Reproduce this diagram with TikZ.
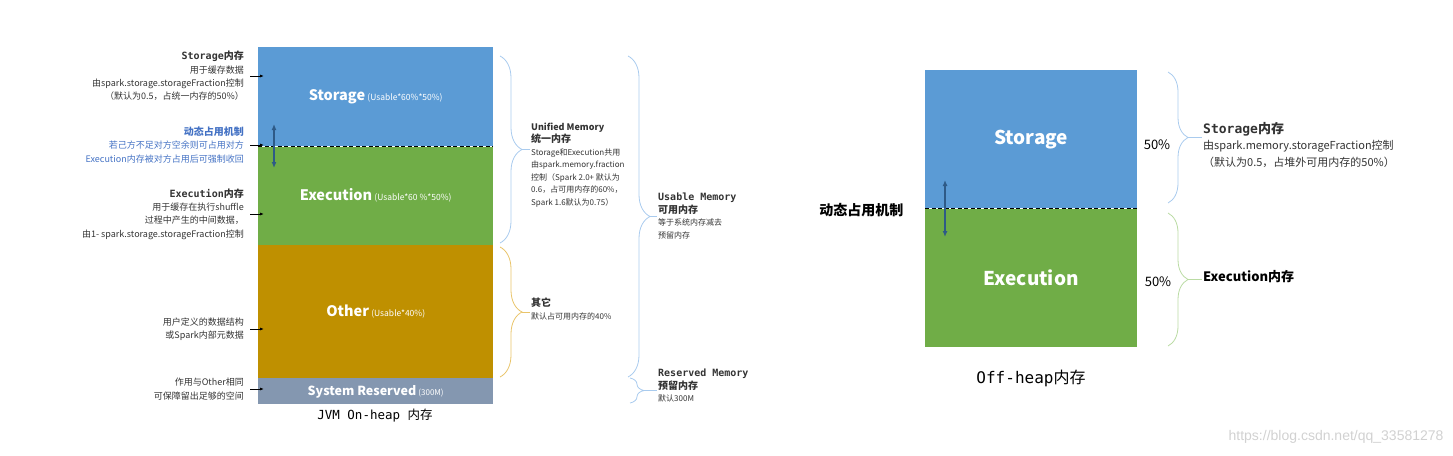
\documentclass[tikz,border=0pt]{standalone}
\usepackage{fontspec}
\setmainfont{Noto Sans CJK SC}
\newfontfamily\monof{DejaVu Sans Mono}
\newfontfamily\urlf{Liberation Sans}
\usetikzlibrary{positioning, arrows.meta, decorations.pathreplacing}

\definecolor{storblue}{HTML}{5B9BD5}
\definecolor{execgreen}{HTML}{70AD47}
\definecolor{othergold}{HTML}{BF9000}
\definecolor{sysgray}{HTML}{8497B0}
\definecolor{swapblue}{HTML}{2E5A87}
\definecolor{dynblue}{HTML}{4472C4}
\definecolor{bracebl}{HTML}{A9CBEE}
\definecolor{bracegold}{HTML}{E9C46A}
\definecolor{bracegreen}{HTML}{BADBA3}

\newcommand{\montitle}[2]{{\fontsize{10}{13}\selectfont\bfseries{\monof #1}#2}}
\newcommand{\cntitle}[1]{{\fontsize{10}{13}\selectfont\bfseries #1}}
\newcommand{\blab}[2]{{\fontsize{14.5}{16}\selectfont\bfseries #1} {\fontsize{8.5}{10}\selectfont #2}}

\begin{document}
\begin{tikzpicture}[x=1pt, y=-1pt,
    block/.style={inner sep=0pt, text=white, minimum width=235pt},
    offblock/.style={inner sep=0pt, text=white, minimum width=212pt, minimum height=138pt,
      font=\fontsize{19}{22}\selectfont\bfseries},
    ann/.style={align=right, anchor=east, inner sep=1pt, text=black!80,
      font=\fontsize{9}{13.3}\selectfont},
    note/.style={align=left, anchor=west, inner sep=1pt, text=black!80,
      font=\fontsize{8}{12.5}\selectfont},
    ptr/.style={-{Latex[length=4pt,width=3pt]}, line width=0.8pt, shorten <=5pt, shorten >=-6pt},
    swap/.style={{Latex[length=6pt,width=5pt]}-{Latex[length=6pt,width=5pt]}, draw=swapblue, line width=1.6pt},
    brc/.style={decorate, decoration={brace, amplitude=#1}, line width=0.8pt},
    sep/.style={dash pattern=on 4pt off 2.5pt, line width=1.3pt}]

\useasboundingbox (0,0) rectangle (1453,455);

% on-heap blocks
\node[block, fill=storblue, minimum height=99pt, anchor=north west] (stor) at (258,47) {\blab{Storage}{(Usable*60\%*50\%)}};
\node[block, fill=execgreen, minimum height=98pt, below=0pt of stor] (exec) {\blab{Execution}{(Usable*60 \%*50\%)}};
\node[block, fill=othergold, minimum height=133pt, below=0pt of exec] (other) {\blab{Other}{(Usable*40\%)}};
\node[block, fill=sysgray, minimum height=26pt, below=0pt of other] (sys) {{\fontsize{12.5}{14}\selectfont\bfseries System Reserved} {\fontsize{8}{9}\selectfont (300M)}};
\draw[sep] (stor.south west) -- (stor.south east);
\coordinate (swapL) at (274,146);
\draw[swap] ([yshift=22pt]swapL) -- ([yshift=-22pt]swapL);
\node[font=\fontsize{12.5}{14}\selectfont] (jvm) at (375,416) {{\monof JVM On-heap }内存};

% left notes
\node[ann] (sann) at (245,76) {\montitle{Storage}{内存}\\用于缓存数据\\由spark.storage.storageFraction控制\\（默认为0.5，占统一内存的50\%）};
\node[ann, text=dynblue] (dann) at (245,145) {\cntitle{动态占用机制}\\若己方不足对方空余则可占用对方\\Execution内存被对方占用后可强制收回};
\node[ann] (eann) at (245,214) {\montitle{Execution}{内存}\\用于缓存在执行shuffle\\过程中产生的中间数据，\\由1- spark.storage.storageFraction控制};
\node[ann] (oann) at (245,329) {用户定义的数据结构\\或Spark内部元数据};
\node[ann] (rann) at (245,389) {作用与Other相同\\可保障留出足够的空间};
\foreach \a/\b in {sann/stor, dann/stor, eann/exec, oann/other, rann/sys}
  \draw[ptr] (\a.east) -- (\a.east -| \b.west);

% right notes
\node[note] (uann) at (530,165) {{\fontsize{9}{12}\selectfont\bfseries Unified Memory}\\\cntitle{统一内存}\\Storage和Execution共用\\由spark.memory.fraction\\控制（Spark 2.0+ 默认为\\0.6，占可用内存的60\%，\\Spark 1.6默认为0.75）};
\node[note] (oth) at (530,309) {\cntitle{其它}\\默认占可用内存的40\%};
\node[note] (usa) at (657,216) {\montitle{Usable Memory}{}\\\cntitle{可用内存}\\等于系统内存减去\\预留内存};
\node[note] (res) at (657,386) {\montitle{Reserved Memory}{}\\\cntitle{预留内存}\\默认300M};

% braces
\draw[brc=22, bracebl] (500,56) -- (500,243);
\coordinate (utip) at (522,149.5);
\draw[bracebl, line width=0.8pt] (utip) -- (uann.west |- utip);
\draw[brc=22, bracegold] (500,247) -- (500,377);
\coordinate (otip) at (522,312);
\draw[bracegold, line width=0.8pt] (otip) -- (oth.west |- otip);
\draw[brc=22, bracebl] (628,56) -- (628,377);
\coordinate (atip) at (650,216.5);
\draw[bracebl, line width=0.8pt] (atip) -- (usa.west |- atip);
\draw[brc=14, bracebl] (630,378) -- (630,403);
\coordinate (rtip) at (644,390.5);
\draw[bracebl, line width=0.8pt] (rtip) -- (res.west |- rtip);

% off-heap
\node[offblock, fill=storblue, anchor=north west] (ostor) at (925,70) {Storage};
\node[offblock, fill=execgreen, below=0pt of ostor] (oexec) {Execution};
\draw[sep] (ostor.south west) -- (ostor.south east);
\coordinate (swapR) at (945,208);
\draw[swap] ([yshift=28pt]swapR) -- ([yshift=-29pt]swapR);
\node[font=\fontsize{14}{16}\selectfont\bfseries, anchor=east] (dyn) at (907,210) {动态占用机制};
\node[font=\fontsize{13}{15}\selectfont] (p1) at (1157,145) {50\%};
\node[font=\fontsize{13}{15}\selectfont] (p2) at (1158,282) {50\%};
\node[font=\fontsize{16}{18}\selectfont] (offl) at (1031,378) {{\monof Off-heap}内存};

\node[note, font=\fontsize{11}{16.5}\selectfont] (osann) at (1202,145) {{\fontsize{13}{16}\selectfont\bfseries{\monof Storage}内存}\\由spark.memory.storageFraction控制\\（默认为0.5，占堆外可用内存的50\%）};
\node[note, font=\fontsize{13}{15}\selectfont\bfseries, text=black] (oeann) at (1202,277) {Execution内存};
\draw[brc=20, bracebl] (1168,72) -- (1168,203);
\coordinate (stip) at (1188,137.5);
\draw[bracebl, line width=0.8pt] (stip) -- (osann.west |- stip);
\draw[brc=20, bracegreen] (1168,213) -- (1168,346);
\coordinate (etip) at (1188,279.5);
\draw[bracegreen, line width=0.8pt] (etip) -- (oeann.west |- etip);

\node[font=\fontsize{14}{16}\selectfont\urlf, text=black!18, anchor=east] (wm) at (1447,437) {https://blog.csdn.net/qq\_33581278};
\end{tikzpicture}
\end{document}
